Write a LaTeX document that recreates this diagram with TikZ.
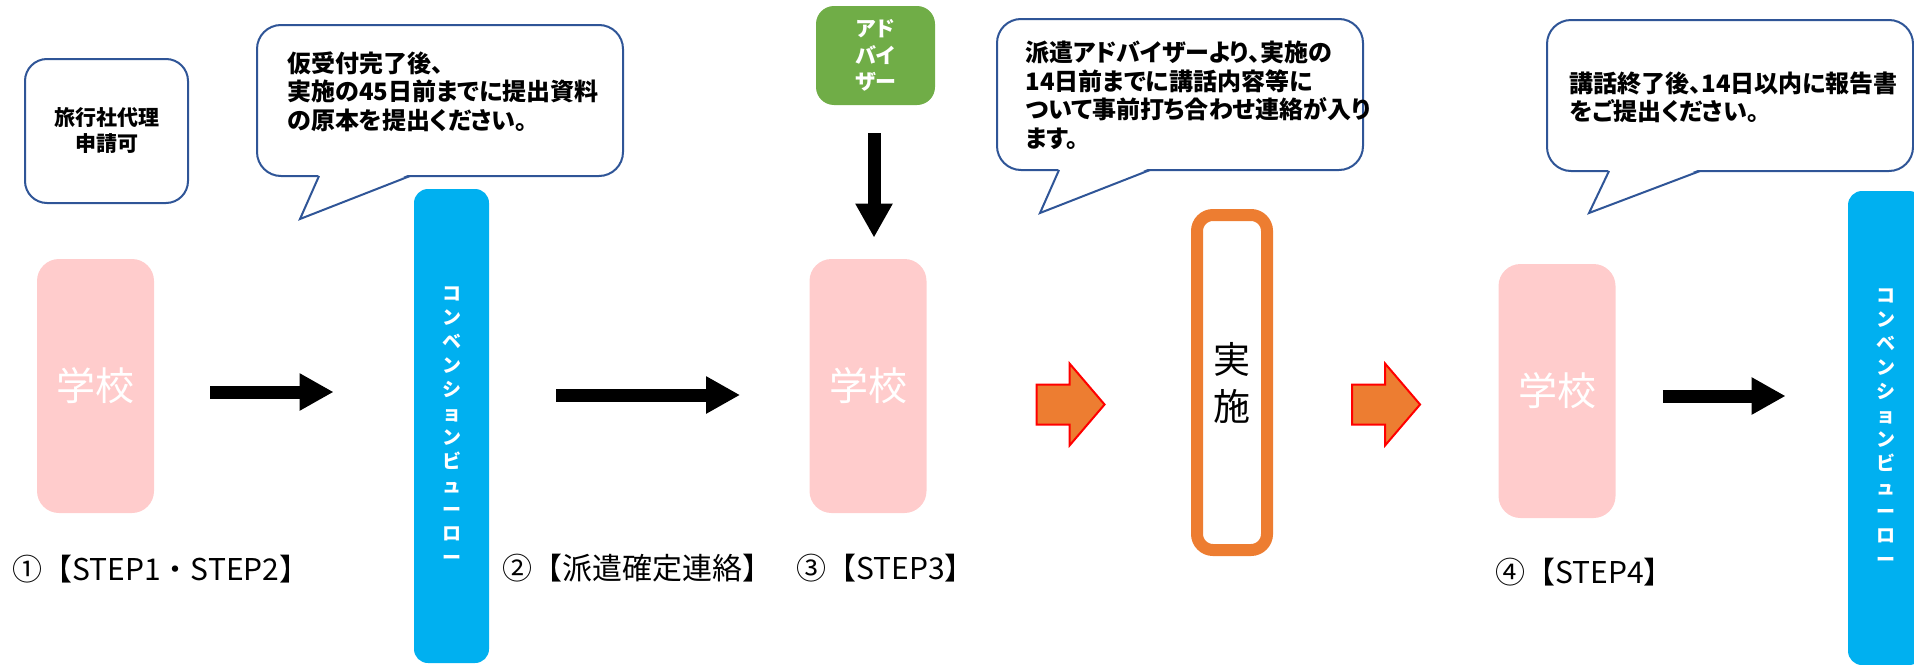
\documentclass[tikz,border=0pt]{standalone}
\usepackage{fontspec}
\usepackage{tikz}
\usetikzlibrary{calc}
\usetikzlibrary{arrows.meta}
\usetikzlibrary{positioning}
\usetikzlibrary{shapes.arrows}
\newfontfamily\jpfont{Noto Sans CJK JP}
\newfontfamily\jppfont[RawFeature=+palt]{Noto Sans CJK JP}
\definecolor{schoolpink}{RGB}{255, 204, 204}
\definecolor{bureaublue}{RGB}{0, 176, 240}
\definecolor{advisorgreen}{RGB}{112, 173, 71}
\definecolor{jisshiorange}{RGB}{237, 125, 49}
\definecolor{calloutblue}{RGB}{47, 85, 151}
\newcommand{\bureauname}{コ\\ン\\ベ\\ン\\シ\\ョ\\ン\\ビ\\ュ\\ー\\ロ\\ー}
\tikzset{
    school/.style={fill=schoolpink, rounded corners=11pt, minimum width=58.5pt, minimum height=127pt,
                   inner sep=0pt, text=white, font=\jpfont\fontsize{19.5}{22}\selectfont},
    bureau/.style={fill=bureaublue, rounded corners=7pt, minimum width=37.5pt, minimum height=237pt,
                   inner sep=0pt, align=center, text=white, font=\jpfont\bfseries\fontsize{9.5}{12}\selectfont},
    advisor/.style={fill=advisorgreen, rounded corners=9pt, minimum width=59.5pt, minimum height=49.5pt,
                    inner sep=0pt, align=center, text=white, font=\jppfont\bfseries\fontsize{10.5}{13.25}\selectfont},
    permit/.style={draw=calloutblue, line width=1pt, rounded corners=11pt, minimum width=81.5pt,
                   minimum height=72pt, inner sep=0pt, align=center, font=\jppfont\bfseries\fontsize{10.5}{13}\selectfont},
    callout/.style={draw=calloutblue, line width=1pt, fill=white, rounded corners=12pt, outer sep=0pt,
                    minimum width=183pt, minimum height=75.5pt},
    calloutline/.style={draw=calloutblue, line width=1pt},
    notetext/.style={anchor=north west, inner sep=0pt, align=left, font=\jppfont\bfseries\fontsize{12}{14.25}\selectfont},
    jisshi/.style={draw=jisshiorange, line width=6pt, rounded corners=8pt, minimum width=35pt, minimum height=167.5pt,
                   inner sep=0pt, align=center, font=\jpfont\fontsize{18.5}{23.5}\selectfont},
    goarrow/.style={single arrow, fill=jisshiorange, draw=red, line width=1pt, inner sep=0pt, text height=9.5pt,
                    text depth=9.5pt, minimum height=34pt, minimum width=40pt, single arrow head extend=10.5pt,
                    single arrow tip angle=99},
    push/.style={line width=6.5pt, -{Triangle[length=17pt, width=17.5pt]}},
    steplabel/.style={anchor=west, inner sep=0pt, font=\jpfont\fontsize{15}{18}\selectfont}
}

\begin{document}
\begin{tikzpicture}[x=0.5pt, y=-0.5pt]
            \useasboundingbox (0,0) rectangle (1914,664);
            % Schools and bureau
            \node[school] (school1) at (95.5,386) {学校};
            \node[school] (school2) at (868,386)  {学校};
            \node[school] (school3) at (1557,391) {学校};
            \node[bureau] (bureau1) at (451.5,426)  {\bureauname};
            \node[bureau] (bureau2) at (1885.5,428) {\bureauname};
            \node[advisor] (advisor) at (875.5,55.5) {アド\\バイ\\ザー};
            \node[jisshi] (jisshi) at (1232,382.5) {実\\施};
            \node[permit] (permit) at (106.5,131) {旅行社代理\\申請可};
            % Callouts
            \node[callout] (note1) at (440,100.5) {};
            \node[callout] (note2) at (1180,94.5) {};
            \node[callout] (note3) at (1730,95.5) {};
            \fill[white] ($(note1.south west)+(62,-2)$) -- ($(note1.south west)+(43,43)$) -- ($(note1.south west)+(153,-2)$) -- cycle;
            \draw[calloutline] ($(note1.south west)+(62,0)$) -- ($(note1.south west)+(43,43)$) -- ($(note1.south west)+(153,0)$);
            \fill[white] ($(note2.south west)+(62,-2)$) -- ($(note2.south west)+(43,43)$) -- ($(note2.south west)+(153,-2)$) -- cycle;
            \draw[calloutline] ($(note2.south west)+(62,0)$) -- ($(note2.south west)+(43,43)$) -- ($(note2.south west)+(153,0)$);
            \fill[white] ($(note3.south west)+(62,-2)$) -- ($(note3.south west)+(42,42)$) -- ($(note3.south west)+(153,-2)$) -- cycle;
            \draw[calloutline] ($(note3.south west)+(62,0)$) -- ($(note3.south west)+(42,42)$) -- ($(note3.south west)+(153,0)$);
            \node[notetext] (note1text) at ([shift={(30,26)}]note1.north west)
                 {仮受付完了後、\\実施の45日前までに提出資料\\の原本を提出ください。};
            \node[notetext] (note2text) at ([shift={(28,22)}]note2.north west)
                 {派遣アドバイザーより、実施の\\14日前までに講話内容等に\\ついて事前打ち合わせ連絡が入り\\ます。};
            \node[notetext] (note3text) at ([shift={(22,51)}]note3.north west)
                 {講話終了後、14日以内に報告書\\をご提出ください。};
            % Arrows
            \draw[push] ($(school1.east)+(56,6)$) -- ($(bureau1.west |- school1.east)+(-80,6)$);
            \draw[push] ($(bureau1.east |- school2.west)+(67,9)$) -- ($(school2.west)+(-69,9)$);
            \draw[push] ($(advisor.south)+(-1.5,28)$) -- ($(advisor.south |- school2.north)+(-1.5,-21)$);
            \draw[push] ($(school3.east)+(47,5)$) -- ($(bureau2.west |- school3.east)+(-62,5)$);
            \node[goarrow] (go1) at (1062,404.5) {};
            \node[goarrow] (go2) at (1377.5,404.5) {};
            % Step labels
            \node[steplabel] (step12) at (12,569)  {①【STEP1・STEP2】};
            \node[steplabel] (haken)  at (502,568) {②【派遣確定連絡】};
            \node[steplabel] (step3)  at (796,568) {③【STEP3】};
            \node[steplabel] (step4)  at (1495,572) {④【STEP4】};
\end{tikzpicture}
\end{document}
